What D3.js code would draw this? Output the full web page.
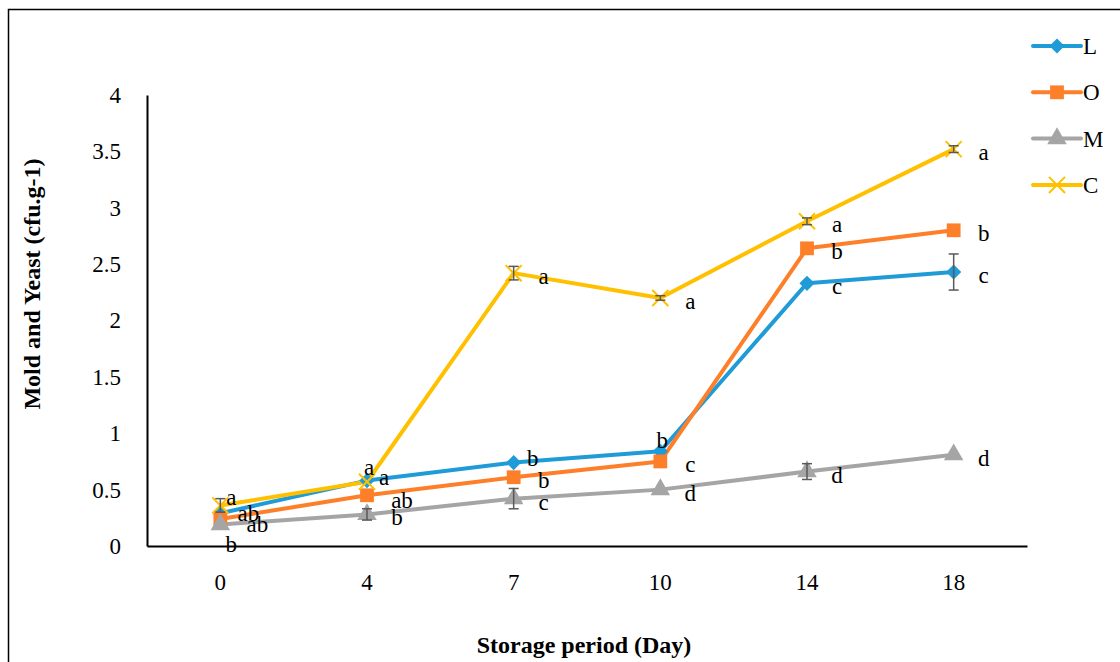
<!DOCTYPE html>
<html>
<head>
<meta charset="utf-8">
<script src="https://cdn.jsdelivr.net/npm/d3@7"></script>
<style>
  body { margin: 0; background: #fff; }
  svg text { font-family: "Liberation Serif", "DejaVu Serif", serif; fill: #000; }
</style>
</head>
<body>
<svg width="1120" height="662"></svg>
<script>
// storage days (categories)
var days = ["0", "4", "7", "10", "14", "18"];
var yTicks = [0, 0.5, 1, 1.5, 2, 2.5, 3, 3.5, 4];

var seriesNames = ["L", "O", "M", "C"];
var valuesL = [0.29, 0.58, 0.74, 0.84, 2.33, 2.43];
var valuesO = [0.24, 0.45, 0.61, 0.75, 2.64, 2.80];
var valuesM = [0.19, 0.28, 0.42, 0.50, 0.66, 0.81];
var valuesC = [0.36, 0.57, 2.42, 2.20, 2.88, 3.52];

var errL = [0, 0, 0, 0, 0, 0.16];
var errO = [0, 0, 0, 0, 0, 0];
var errM = [0, 0.05, 0.09, 0, 0.07, 0];
var errC = [0.06, 0, 0.06, 0.02, 0.03, 0.03];

var lettersL = ["ab", "a", "b", "b", "c", "c"];
var lettersO = ["ab", "ab", "b", "c", "b", "b"];
var lettersM = ["b", "b", "c", "d", "d", "d"];
var lettersC = ["a", "a", "a", "a", "a", "a"];

var svg = d3.select("svg"),
    margin = {top: 95, right: 93, bottom: 116, left: 147},
    width = +svg.attr("width") - margin.left - margin.right,
    height = +svg.attr("height") - margin.top - margin.bottom;

// outer frame (only top and left edges visible)
svg.append("rect")
  .attr("x", 8.5).attr("y", 9.5)
  .attr("width", 1200).attr("height", 700)
  .attr("fill", "none").attr("stroke", "#000").attr("stroke-width", 1.5);

var x = d3.scaleBand().domain(days).range([0, width]),
    y = d3.scaleLinear().domain([0, 4]).range([height, 0]);

var g = svg.append("g")
  .attr("transform", "translate(" + margin.left + "," + margin.top + ")");

// axes
g.append("g")
  .attr("transform", "translate(0," + height + ")")
  .call(d3.axisBottom(x).tickSize(0).tickPadding(28))
  .call(function(a) {
    a.select(".domain").attr("stroke", "#000").attr("stroke-width", 2);
    a.selectAll("text").style("font-size", "23px");
  });

g.append("g")
  .call(d3.axisLeft(y).tickValues(yTicks).tickSize(0).tickPadding(26)
    .tickFormat(function(d) { return d; }))
  .call(function(a) {
    a.select(".domain").attr("stroke", "#000").attr("stroke-width", 2);
    a.selectAll("text").style("font-size", "23px");
  });

svg.append("text")
  .attr("transform", "translate(40,284) rotate(-90)")
  .attr("text-anchor", "middle")
  .style("font-size", "24px").style("font-weight", "bold")
  .text("Mold  and Yeast (cfu.g-1)");

svg.append("text")
  .attr("x", 584).attr("y", 653)
  .attr("text-anchor", "middle")
  .style("font-size", "24px").style("font-weight", "bold")
  .text("Storage period (Day)");

var colors = {L: "#1f9bd7", O: "#fd7f29", M: "#a5a5a5", C: "#ffc000"};

var series = [
  {name: "L", values: valuesL, err: errL, letters: lettersL},
  {name: "O", values: valuesO, err: errO, letters: lettersO},
  {name: "M", values: valuesM, err: errM, letters: lettersM},
  {name: "C", values: valuesC, err: errC, letters: lettersC}
];

// label nudges where letters would collide (dx, dy from the default spot)
var nudge = {
  "L-0": [28, 0], "O-0": [37, 5], "M-0": [11, 19], "C-0": [11, -8],
  "L-1": [17, -4], "O-1": [35, 5], "C-1": [2, -15],
  "L-2": [19, -5], "L-3": [2, -11]
};

var cx = function(i) { return x(days[i]) + x.bandwidth() / 2; };

var line = d3.line()
  .x(function(d, i) { return cx(i); })
  .y(function(d) { return y(d); });

function drawMarker(sel, name) {
  if (name == "C") {
    sel.append("path")
      .attr("d", d3.symbol().type(d3.symbolX).size(170)())
      .attr("fill", "none").attr("stroke", colors[name]).attr("stroke-width", 2);
  } else if (name == "L") {
    sel.append("path")
      .attr("d", d3.symbol().type(d3.symbolSquare).size(115)())
      .attr("transform", "rotate(45)")
      .attr("fill", colors[name]);
  } else if (name == "O") {
    sel.append("path")
      .attr("d", d3.symbol().type(d3.symbolSquare).size(190)())
      .attr("fill", colors[name]);
  } else {
    sel.append("path")
      .attr("d", d3.symbol().type(d3.symbolTriangle).size(165)())
      .attr("fill", colors[name]);
  }
}

series.forEach(function(s) {
  g.append("path")
    .datum(s.values)
    .attr("fill", "none")
    .attr("stroke", colors[s.name])
    .attr("stroke-width", 4)
    .attr("stroke-linejoin", "round")
    .attr("d", line);
});

series.forEach(function(s) {
  s.values.forEach(function(v, i) {
    var m = g.append("g").attr("transform", "translate(" + cx(i) + "," + y(v) + ")");
    drawMarker(m, s.name);
  });
});

// error bars
series.forEach(function(s) {
  s.values.forEach(function(v, i) {
    var e = s.err[i];
    if (!e) return;
    var eb = g.append("g").attr("stroke", "#595959").attr("stroke-width", 1.5);
    eb.append("line").attr("x1", cx(i)).attr("x2", cx(i)).attr("y1", y(v + e)).attr("y2", y(v - e));
    eb.append("line").attr("x1", cx(i) - 5).attr("x2", cx(i) + 5).attr("y1", y(v + e)).attr("y2", y(v + e));
    eb.append("line").attr("x1", cx(i) - 5).attr("x2", cx(i) + 5).attr("y1", y(v - e)).attr("y2", y(v - e));
  });
});

// significance letters
series.forEach(function(s) {
  s.values.forEach(function(v, i) {
    var n = nudge[s.name + "-" + i] || [30, 3];
    g.append("text")
      .attr("x", cx(i) + n[0])
      .attr("y", y(v) + n[1])
      .attr("dy", "0.35em")
      .attr("text-anchor", "middle")
      .style("font-size", "23px")
      .text(s.letters[i]);
  });
});

// legend
var legend = svg.append("g").attr("transform", "translate(1033,46)");
seriesNames.forEach(function(name, i) {
  var row = legend.append("g").attr("transform", "translate(0," + (i * 46.3) + ")");
  row.append("line").attr("x1", 0).attr("x2", 48)
    .attr("stroke", colors[name]).attr("stroke-width", 4).attr("stroke-linecap", "round");
  var m = row.append("g").attr("transform", "translate(24,0)");
  drawMarker(m, name);
  row.append("text").attr("x", 50).attr("dy", "0.35em")
    .style("font-size", "23px").text(name);
});
</script>
</body>
</html>
